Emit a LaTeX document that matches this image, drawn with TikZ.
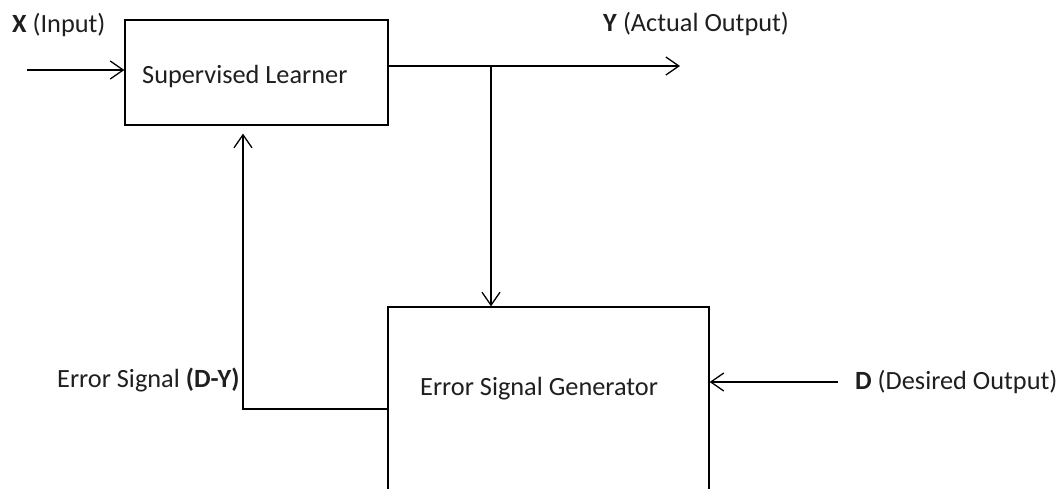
\documentclass[tikz,border=0pt]{standalone}
\usepackage{fontspec}
\setmainfont{Carlito}
\usetikzlibrary{arrows.meta}
\begin{document}
\begin{tikzpicture}[x=1pt,y=-1pt,
  block/.style={draw, line width=1.3pt, minimum width=#1, inner sep=0pt},
  lbl/.style={anchor=base west, inner sep=0pt, font=\fontsize{26.3}{30}\selectfont, text=black!88},
  conn/.style={line width=1.3pt, -{Straight Barb[length=13pt,width=18pt,line width=1.3pt]}},
  wire/.style={line width=1.3pt}]
\useasboundingbox (0,0) rectangle (1060,488);
\clip (0,0) rectangle (1060,488);
\fill[white] (0,0) rectangle (1060,488);

% blocks
\node[block=263pt, minimum height=105pt] (sl) at (256.5,72.5) {};
\node[block=321pt, minimum height=220pt] (esg) at (548.5,417) {};

% block texts
\node[lbl] (sltxt) at (142,83) {Supervised Learner};
\node[lbl] (esgtxt) at (420,395) {Error Signal Generator};

% signal labels
\node[lbl] (xlbl) at (12,32) {\textbf{X} (Input)};
\node[lbl] (ylbl) at (603,31) {\textbf{Y} (Actual Output)};
\node[lbl] (elbl) at (57,387) {Error Signal \textbf{(D-Y)}};
\node[lbl] (dlbl) at (855,389) {\textbf{D} (Desired Output)};

% connector end points
\coordinate (xin) at (27,70);
\coordinate (yout) at (680,66);
\coordinate (br) at (491,66);
\coordinate (fb) at (243,409);
\coordinate (din) at (838,382);

% connectors
\draw[conn] (xin) -- (xin -| sl.west);
\draw[conn] (yout -| sl.east) -- (yout);
\draw[conn] (br) -- (br |- esg.north);
\draw[conn] (esg.west |- fb) -- (fb) -- ([yshift=-8pt]fb |- sl.south);
\draw[conn] (din) -- (din -| esg.east);
\end{tikzpicture}
\end{document}
